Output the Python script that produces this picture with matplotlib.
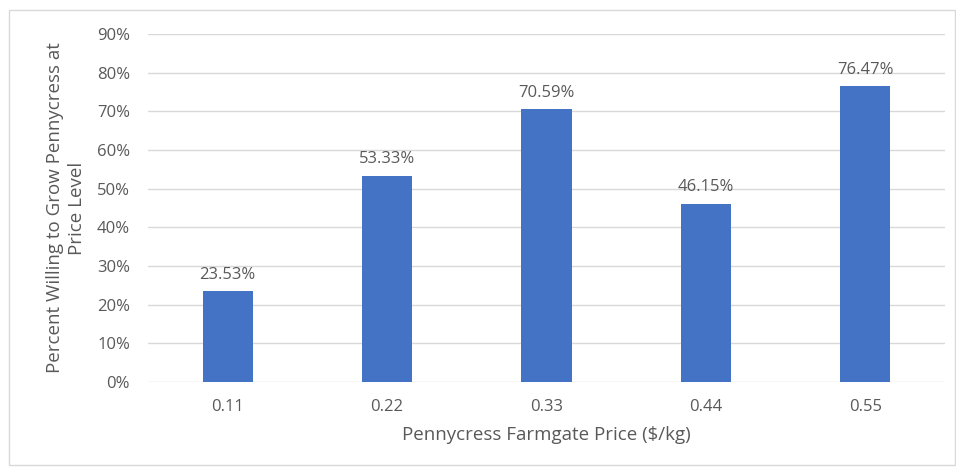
import matplotlib
matplotlib.use("Agg")
import matplotlib.pyplot as plt
from matplotlib.patches import Rectangle
from matplotlib.ticker import FuncFormatter

categories = ["0.11", "0.22", "0.33", "0.44", "0.55"]
values = [23.53, 53.33, 70.59, 46.15, 76.47]
yticks = [0, 10, 20, 30, 40, 50, 60, 70, 80, 90]

plt.rcParams['font.family'] = ['Open Sans', 'DejaVu Sans']
text_color = '#595959'
grid_color = '#d9d9d9'
bar_color = '#4472c4'

fig = plt.figure(figsize=(9.56, 4.70), dpi=100)
ax = fig.add_axes([148/956, 1-382/470, (945-148)/956, (382-34)/470])

x = range(len(categories))
bars = ax.bar(x, values, width=0.314, color=bar_color, zorder=3)
for xi, v in zip(x, values):
    ax.annotate(f"{v:.2f}%", (xi, v), xytext=(0, 6), textcoords='offset points',
                ha='center', va='bottom', fontsize=12, color=text_color)

ax.set_xlim(-0.5, len(categories) - 0.5)
ax.set_ylim(0, 90)
ax.set_yticks(yticks)
ax.yaxis.set_major_formatter(FuncFormatter(lambda v, p: f"{v:.0f}%"))
ax.set_xticks(list(x))
ax.set_xticklabels(categories)
ax.grid(axis='y', color=grid_color, linewidth=1, zorder=0)
for s in ax.spines.values():
    s.set_visible(False)
ax.tick_params(axis='both', length=0, labelsize=12, colors=text_color)
ax.tick_params(axis='y', pad=13)
ax.tick_params(axis='x', pad=12)

ax.set_xlabel("Pennycress Farmgate Price ($/kg)", fontsize=13.5, color=text_color, labelpad=8)
ax.set_ylabel("Percent Willing to Grow Pennycress at\nPrice Level", fontsize=13.5,
              color=text_color, labelpad=8, linespacing=1.25)

fig.patches.append(Rectangle((9/956, 1-465/470), (955-9)/956, (465-10)/470,
                             transform=fig.transFigure, fill=False,
                             edgecolor=grid_color, linewidth=1))

fig.savefig("out.png", dpi=100)
